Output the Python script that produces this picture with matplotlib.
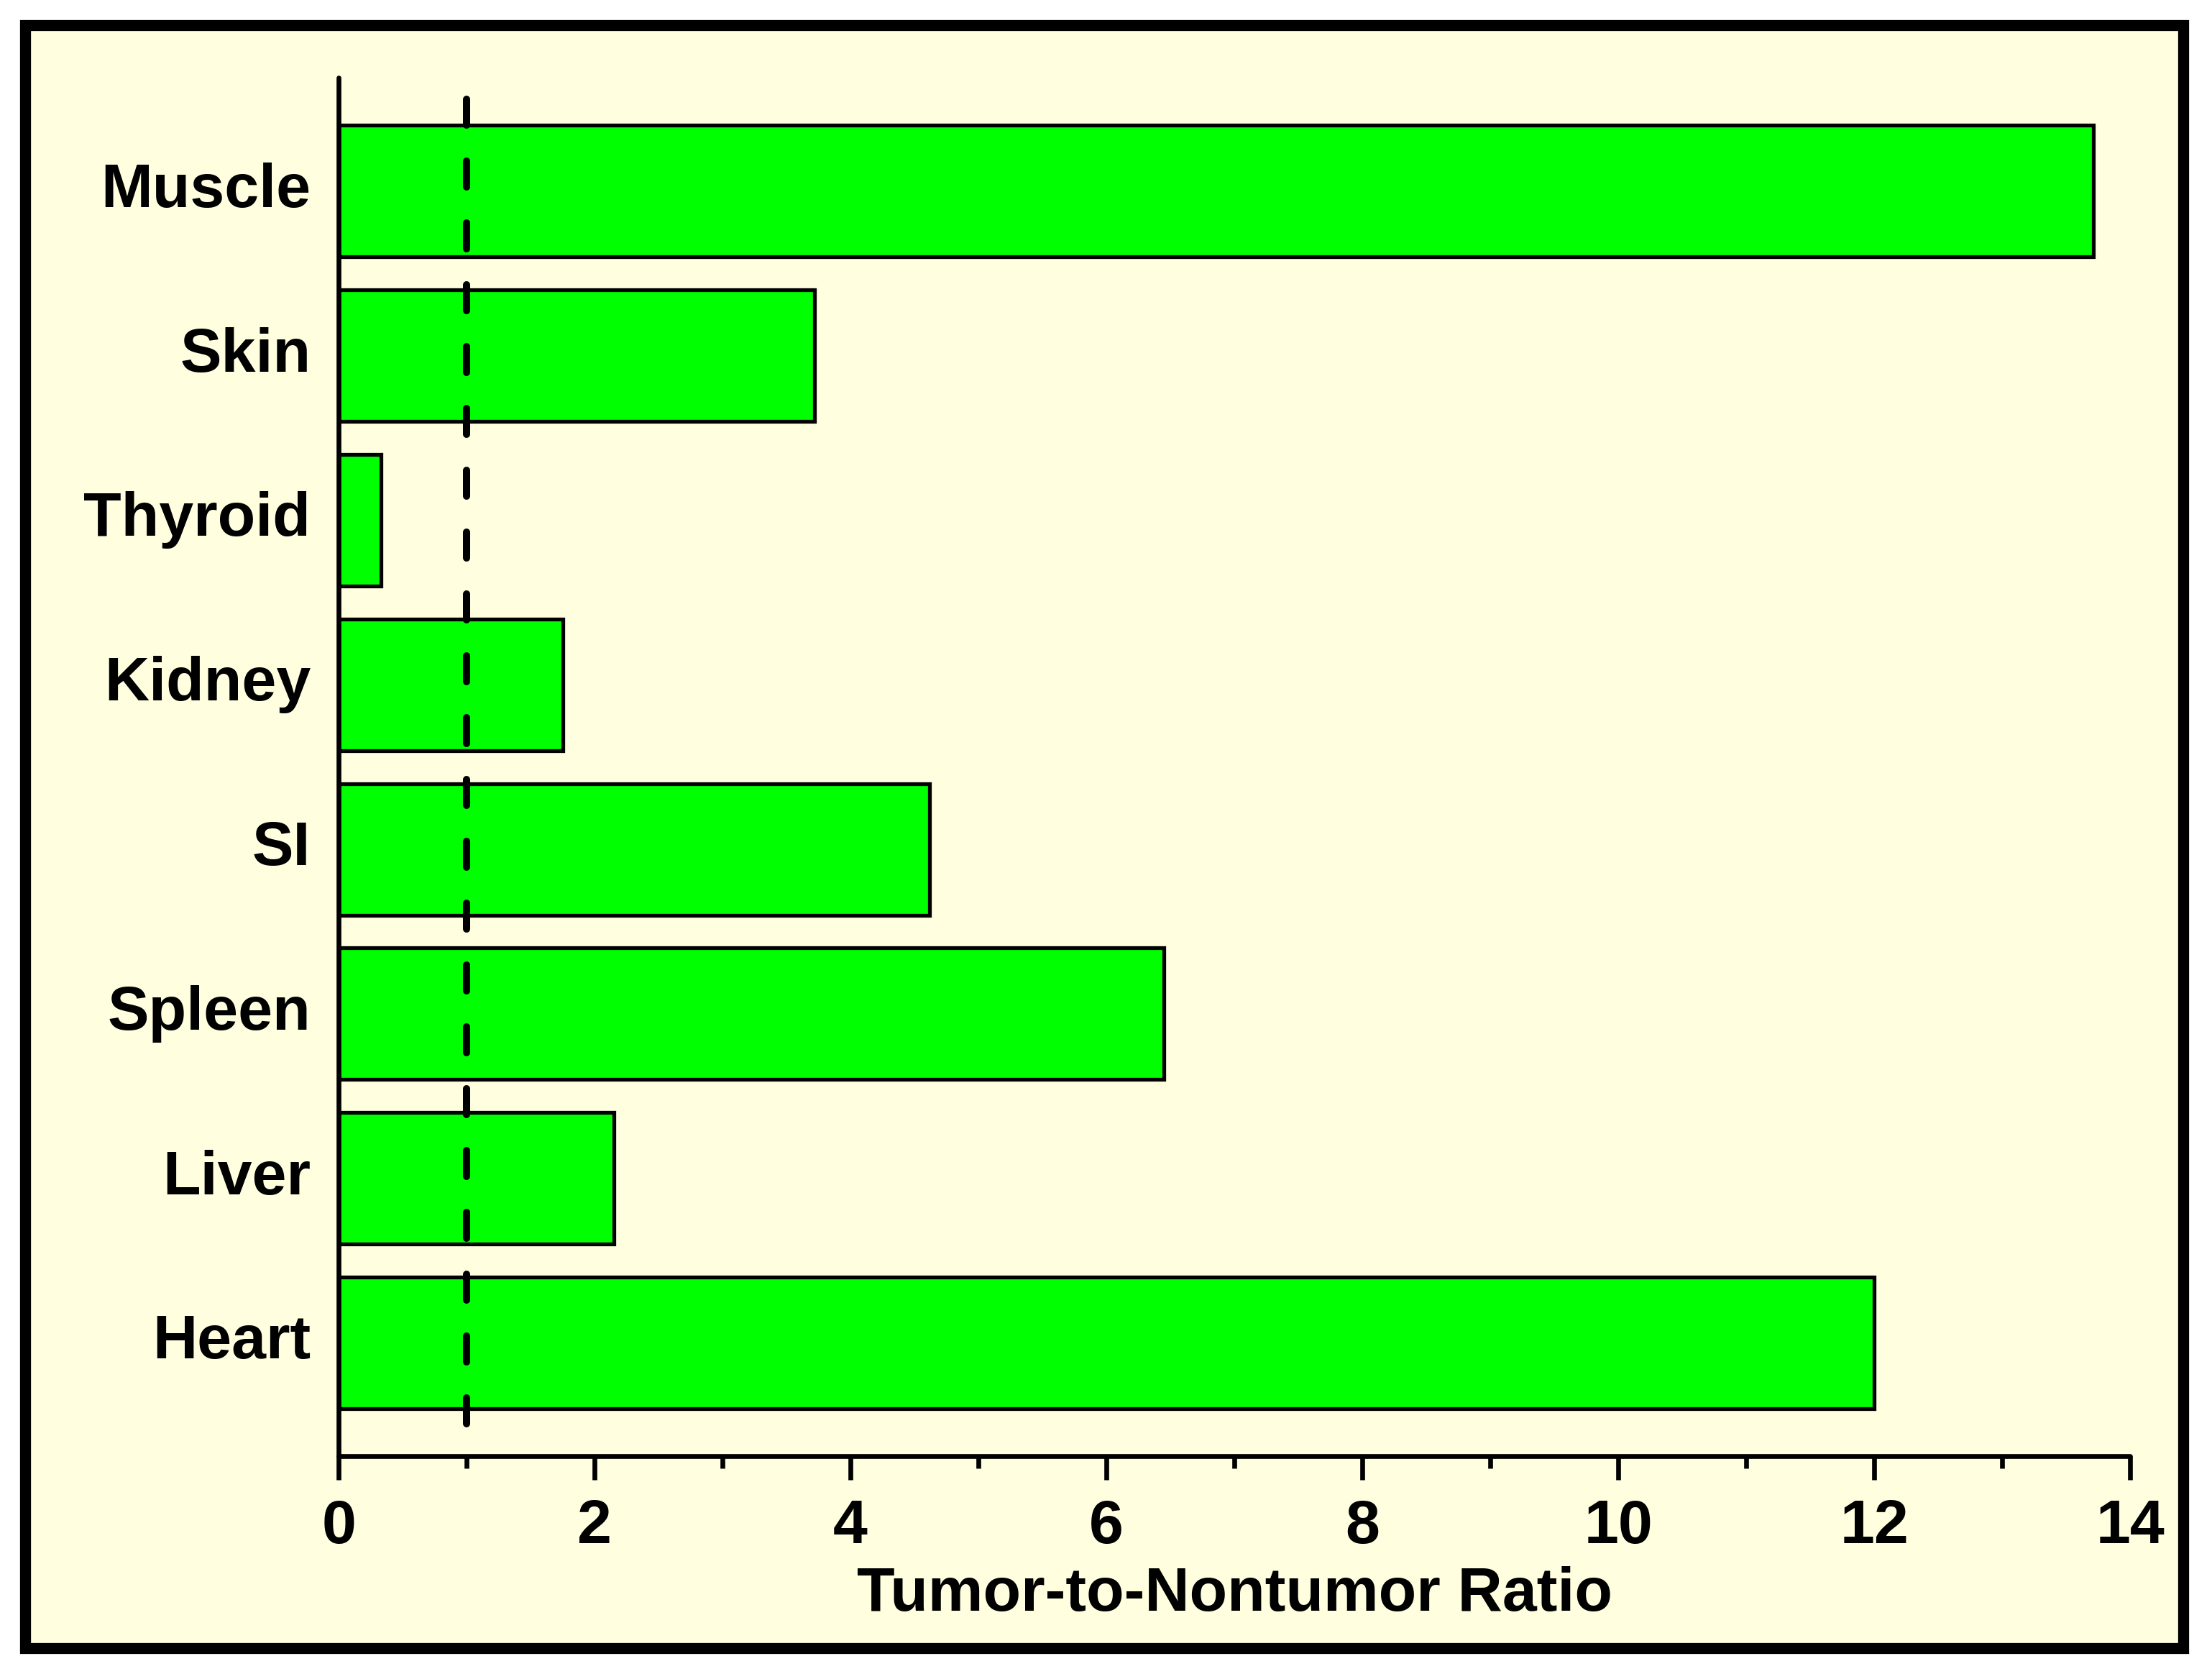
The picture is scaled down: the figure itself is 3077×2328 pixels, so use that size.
import matplotlib.pyplot as plt
from matplotlib.patches import Rectangle

# organs listed bottom to top, as drawn
organs = ['Heart', 'Liver', 'Spleen', 'SI', 'Kidney', 'Thyroid', 'Skin', 'Muscle']
ratios = [12.0, 2.15, 6.45, 4.62, 1.75, 0.33, 3.72, 13.71]
ref_ratio = 1.0

plt.rcParams['font.family'] = ['Liberation Sans', 'DejaVu Sans']
plt.rcParams['font.weight'] = 'bold'

fig = plt.figure(figsize=(15.385, 11.64), dpi=200, facecolor='white')

# pale yellow panel with heavy black frame, kept behind the axes
frame = Rectangle((0.0115, 0.0155), 0.9755, 0.9695, transform=fig.transFigure,
                  facecolor='#FFFFE0', edgecolor='black', linewidth=5.5, zorder=-10)
fig.add_artist(frame)

ax = fig.add_axes([0.1531, 0.1300, 0.8099, 0.8236])
ax.set_zorder(5)
ax.set_facecolor('none')

ypos = list(range(len(organs)))
ax.barh(ypos, ratios, height=0.8, color='#00FF00', edgecolor='black', linewidth=1.9, zorder=2)

# reference line at ratio = 1 (drawn top to bottom so the dashes start at the top)
ax.plot([ref_ratio, ref_ratio], [7.56, -0.57], color='black', linewidth=3.6,
        linestyle=(0, (3.6, 5.0)), dash_capstyle='round', zorder=3)

ax.set_xlim(0, 14)
ax.set_ylim(-0.69, 7.69)
ax.set_xticks(range(0, 15, 2))
ax.set_xticks(range(1, 14, 2), minor=True)
ax.set_yticks(ypos)
ax.set_yticklabels(organs, va='center')

for s in ['top', 'right']:
    ax.spines[s].set_visible(False)
for s in ['left', 'bottom']:
    ax.spines[s].set_linewidth(2.4)
    ax.spines[s].set_capstyle('round')

ax.tick_params(axis='x', which='major', length=12, width=2.4, pad=9, labelsize=31)
ax.tick_params(axis='x', which='minor', length=6, width=2.4)
ax.tick_params(axis='y', length=0, pad=14, labelsize=31)
for t in ax.xaxis.get_majorticklines() + ax.xaxis.get_minorticklines():
    t.set_solid_capstyle('round')

ax.set_xlabel('Tumor-to-Nontumor Ratio', fontsize=31, fontweight='bold', labelpad=5)

fig.savefig('out.png', dpi=200, facecolor='white')
